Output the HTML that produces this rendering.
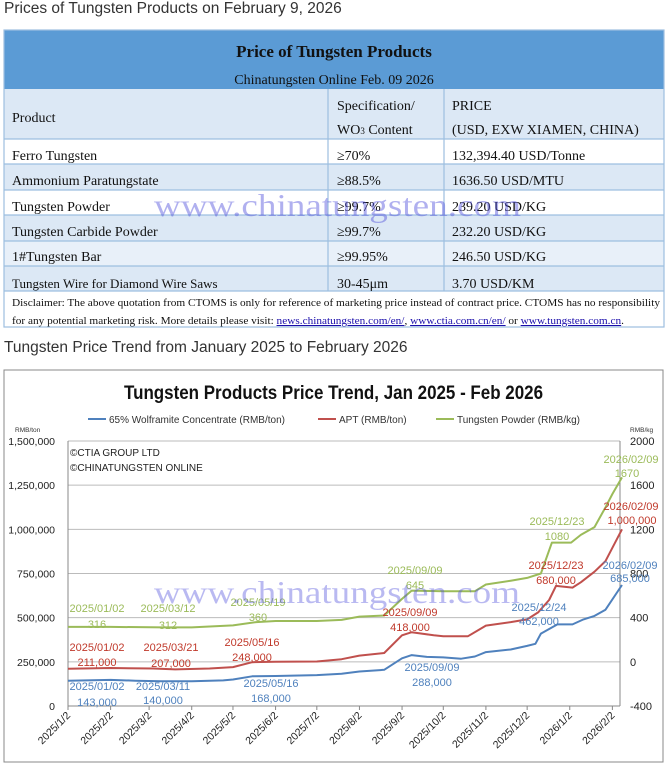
<!DOCTYPE html>
<html><head><meta charset="utf-8"><style>
body{margin:0;width:667px;height:767px;background:#fff;position:relative;overflow:hidden;font-family:"Liberation Sans",sans-serif}
.abs{position:absolute}
.serif{font-family:"Liberation Serif",serif}
</style></head><body>
<div class="abs" style="left:4px;top:0px;font-size:15.5px;color:#333;">Prices of Tungsten Products on February 9, 2026</div>
<svg class="abs" style="left:0;top:0" width="667" height="340">
<g font-family="Liberation Serif, serif" fill="#111">
<rect x="4" y="30" width="660" height="59" fill="#5b9bd5"/>
<text x="334" y="57" text-anchor="middle" font-size="17" font-weight="bold">Price of Tungsten Products</text>
<text x="334" y="84" text-anchor="middle" font-size="14">Chinatungsten Online Feb. 09 2026</text>
<rect x="4" y="89" width="660" height="50" fill="#dce8f5"/>
<rect x="4" y="139" width="660" height="25" fill="#fff"/>
<rect x="4" y="164" width="660" height="26" fill="#dce8f5"/>
<rect x="4" y="190" width="660" height="25" fill="#fff"/>
<rect x="4" y="215" width="660" height="26" fill="#dce8f5"/>
<rect x="4" y="241" width="660" height="25" fill="#e8f0f9"/>
<rect x="4" y="266" width="660" height="25" fill="#dce8f5"/>
<rect x="4" y="291" width="660" height="36" fill="#fff"/>
<g stroke="#9dbfe0" stroke-width="1.2">
<line x1="4" y1="139" x2="664" y2="139"/><line x1="4" y1="164" x2="664" y2="164"/><line x1="4" y1="190" x2="664" y2="190"/><line x1="4" y1="215" x2="664" y2="215"/><line x1="4" y1="241" x2="664" y2="241"/><line x1="4" y1="266" x2="664" y2="266"/><line x1="4" y1="291" x2="664" y2="291"/>
<line x1="328" y1="89" x2="328" y2="291"/><line x1="444" y1="89" x2="444" y2="291"/>
<rect x="4" y="30" width="660" height="297" fill="none"/>
</g>
<g font-size="14">
<text x="12" y="122">Product</text>
<text x="337" y="110">Specification/</text><text x="337" y="134">WO<tspan font-size="9">3</tspan> Content</text>
<text x="452" y="110">PRICE</text><text x="452" y="134">(USD, EXW XIAMEN, CHINA)</text>
<text x="12" y="160">Ferro Tungsten</text><text x="337" y="160">≥70%</text><text x="452" y="160">132,394.40 USD/Tonne</text>
<text x="12" y="185">Ammonium Paratungstate</text><text x="337" y="185">≥88.5%</text><text x="452" y="185">1636.50 USD/MTU</text>
<text x="12" y="211">Tungsten Powder</text><text x="337" y="211">≥99.7%</text><text x="452" y="211">239.20 USD/KG</text>
<text x="12" y="236">Tungsten Carbide Powder</text><text x="337" y="236">≥99.7%</text><text x="452" y="236">232.20 USD/KG</text>
<text x="12" y="261">1#Tungsten Bar</text><text x="337" y="261">≥99.95%</text><text x="452" y="261">246.50 USD/KG</text>
<text x="12" y="288" font-size="13">Tungsten Wire for Diamond Wire Saws</text><text x="337" y="288">30-45μm</text><text x="452" y="288">3.70 USD/KM</text>
</g>
<g font-size="10.5">
<text x="12" y="306" textLength="648" lengthAdjust="spacingAndGlyphs">Disclaimer: The above quotation from CTOMS is only for reference of marketing price instead of contract price. CTOMS has no responsibility</text>
<text x="12" y="324" textLength="612" lengthAdjust="spacingAndGlyphs">for any potential marketing risk. More details please visit: <tspan fill="#1a0dab" text-decoration="underline">news.chinatungsten.com/en/</tspan>,   <tspan fill="#1a0dab" text-decoration="underline">www.ctia.com.cn/en/</tspan> or <tspan fill="#1a0dab" text-decoration="underline">www.tungsten.com.cn</tspan>.</text>
</g>
<text x="154" y="216" font-size="32" fill="rgba(80,80,220,0.45)" textLength="367" lengthAdjust="spacingAndGlyphs">www.chinatungsten.com</text>
</g>
</svg>
<div class="abs" style="left:4px;top:339px;font-size:15.5px;color:#333;">Tungsten Price Trend from January 2025 to February 2026</div>
<svg id="chart" class="abs" style="left:0;top:0" width="667" height="767"></svg>
<script>
const dateLabels=["2025/1/2","2025/2/2","2025/3/2","2025/4/2","2025/5/2","2025/6/2","2025/7/2","2025/8/2","2025/9/2","2025/10/2","2025/11/2","2025/12/2","2026/1/2","2026/2/2"];
const leftTicks=[0,250000,500000,750000,1000000,1250000,1500000];
const rightTicks=[-400,0,400,800,1200,1600,2000];
const wolfDates=["2025-01-02","2025-02-02","2025-02-20","2025-03-11","2025-04-02","2025-04-25","2025-05-02","2025-05-16","2025-06-02","2025-07-02","2025-07-20","2025-08-02","2025-08-20","2025-09-02","2025-09-09","2025-09-20","2025-10-02","2025-10-15","2025-10-25","2025-11-02","2025-11-20","2025-12-02","2025-12-08","2025-12-12","2025-12-24","2026-01-04","2026-01-12","2026-01-20","2026-01-28","2026-02-09"];
const wolfValues=[143000,148000,143000,140000,140000,145000,150000,168000,170000,175000,182000,195000,205000,270000,288000,278000,275000,268000,280000,305000,320000,340000,352000,410000,462000,462000,490000,510000,545000,685000];
const aptDates=["2025-01-02","2025-02-02","2025-03-05","2025-03-21","2025-04-15","2025-05-02","2025-05-16","2025-06-02","2025-07-02","2025-07-20","2025-08-02","2025-08-20","2025-09-02","2025-09-09","2025-09-25","2025-10-02","2025-10-20","2025-11-02","2025-11-20","2025-12-02","2025-12-10","2025-12-18","2025-12-23","2026-01-04","2026-01-10","2026-01-20","2026-01-28","2026-02-09"];
const aptValues=[211000,215000,212000,207000,212000,220000,248000,250000,252000,265000,285000,300000,400000,418000,400000,395000,395000,455000,475000,490000,530000,600000,680000,670000,700000,760000,820000,1000000];
const powDates=["2025-01-02","2025-02-02","2025-03-12","2025-04-02","2025-05-02","2025-05-19","2025-06-02","2025-07-02","2025-07-20","2025-08-02","2025-08-20","2025-09-02","2025-09-09","2025-10-02","2025-10-25","2025-11-02","2025-11-20","2025-12-02","2025-12-12","2025-12-20","2026-01-03","2026-01-10","2026-01-20","2026-01-28","2026-02-02","2026-02-09"];
const powValues=[316,316,312,312,330,360,370,370,380,410,420,570,645,640,640,700,735,760,800,1080,1080,1150,1220,1400,1520,1670];
const NS="http://www.w3.org/2000/svg";
const svg=document.getElementById('chart');
const t0=Date.UTC(2025,0,2), t1=Date.UTC(2026,1,9);
function day(s){const p=s.split(/[-\/]/).map(Number);return (Date.UTC(p[0],p[1]-1,p[2])-t0)/864e5;}
const X0=68,X1=622,Y0=706,Y1=441;
const totalDays=(t1-t0)/864e5;
function xs(d){return X0+(X1-X0)*day(d)/totalDays;}
function yl(v){return Y0-(Y0-Y1)*v/1500000;}
function yr(v){return Y0-(Y0-Y1)*(v+400)/2400;}
function el(tag,attrs,txt){const e=document.createElementNS(NS,tag);for(const k in attrs)e.setAttribute(k,attrs[k]);if(txt!==undefined)e.textContent=txt;svg.appendChild(e);return e;}
let e=el('rect',{x:4,y:370,width:659,height:392,fill:'#fff',stroke:'#888','stroke-width':1});


e=el('text',{x:124,y:399,'font-size':19,'font-weight':'bold',fill:'#111',textLength:419,lengthAdjust:'spacingAndGlyphs'},'Tungsten Products Price Trend, Jan 2025 - Feb 2026');


const legend=[[88,'#4f81bd','65% Wolframite Concentrate (RMB/ton)'],[318,'#c0504d','APT (RMB/ton)'],[436,'#9bbb59','Tungsten Powder (RMB/kg)']];
legend.forEach(l=>{
 const ln=el('line',{x1:l[0],x2:l[0]+18,y1:419,y2:419,stroke:l[1],'stroke-width':2});
 
 
 const t=el('text',{x:l[0]+21,y:423,'font-size':10,fill:'#333'},l[2]);
 
 
});
e=el('text',{x:15,y:432,'font-size':6.5,fill:'#333'},'RMB/ton');


e=el('text',{x:630,y:432,'font-size':6.5,fill:'#333'},'RMB/kg');


leftTicks.forEach(v=>{
 const g=el('line',{x1:X0,x2:620,y1:yl(v),y2:yl(v),stroke:'#bbb','stroke-width':1});
 
 
 const t=el('text',{x:55,y:yl(v)+4,'text-anchor':'end','font-size':10.5,fill:'#222'},v.toLocaleString('en-US'));
 
 
});
rightTicks.forEach(v=>{
 const t=el('text',{x:630,y:yr(v)+4,'font-size':11,fill:'#222'},String(v));
 
 
});
e=el('line',{x1:X0,x2:X0,y1:Y1,y2:Y0,stroke:'#888'});


e=el('line',{x1:620,x2:620,y1:Y1,y2:Y0,stroke:'#888'});


e=el('line',{x1:X0,x2:620,y1:Y0,y2:Y0,stroke:'#888'});


dateLabels.forEach(d=>{
 const x=xs(d);
 const tk=el('line',{x1:x,x2:x,y1:Y0,y2:Y0+4,stroke:'#888'});
 
 
 const t=el('text',{x:x+3,y:Y0+10,'text-anchor':'end','font-size':10.5,fill:'#222',transform:`rotate(-45 ${x+3} ${Y0+10})`},d);
 
 
});
e=el('text',{x:70,y:456,'font-size':10,fill:'#222'},'©CTIA GROUP LTD');


e=el('text',{x:70,y:471,'font-size':10,fill:'#222'},'©CHINATUNGSTEN ONLINE');


function series(dates,vals,yf,color,name){
 const pts=dates.map((d,i)=>xs(d).toFixed(1)+','+yf(vals[i]).toFixed(1)).join(' ');
 const p=el('polyline',{points:pts,fill:'none',stroke:color,'stroke-width':2,'stroke-linejoin':'round'});
 
 
}
series(powDates,powValues,yr,'#9bbb59','tungsten-powder-line');
series(aptDates,aptValues,yl,'#c0504d','apt-line');
series(wolfDates,wolfValues,yl,'#4f81bd','wolframite-line');
const G='#9bbb59',R='#c0392b',B='#4f81bd';
const ann=[[97,608,G,'2025/01/02'],[97,624,G,'316'],[168,608,G,'2025/03/12'],[168,625,G,'312'],[258,602,G,'2025/05/19'],[258,617,G,'360'],[415,570,G,'2025/09/09'],[415,585,G,'645'],[557,521,G,'2025/12/23'],[557,536,G,'1080'],[631,459,G,'2026/02/09'],[627,473,G,'1670'],
[97,647,R,'2025/01/02'],[97,662,R,'211,000'],[171,647,R,'2025/03/21'],[171,663,R,'207,000'],[252,642,R,'2025/05/16'],[252,657,R,'248,000'],[410,612,R,'2025/09/09'],[410,627,R,'418,000'],[556,565,R,'2025/12/23'],[556,580,R,'680,000'],[631,506,R,'2026/02/09'],[632,520,R,'1,000,000'],
[97,686,B,'2025/01/02'],[97,702,B,'143,000'],[163,686,B,'2025/03/11'],[163,700,B,'140,000'],[271,683,B,'2025/05/16'],[271,698,B,'168,000'],[432,667,B,'2025/09/09'],[432,682,B,'288,000'],[539,607,B,'2025/12/24'],[539,621,B,'462,000'],[630,565,B,'2026/02/09'],[630,578,B,'685,000']];
ann.forEach(a=>{
 const t=el('text',{x:a[0],y:a[1]+4,'text-anchor':'middle','font-size':11,fill:a[2]},a[3]);
 
 
});
e=el('text',{x:154,y:603,'font-size':32,fill:'rgba(80,80,220,0.4)','font-family':'Liberation Serif, serif',textLength:366,lengthAdjust:'spacingAndGlyphs'},'www.chinatungsten.com');


</script>
</body></html>
